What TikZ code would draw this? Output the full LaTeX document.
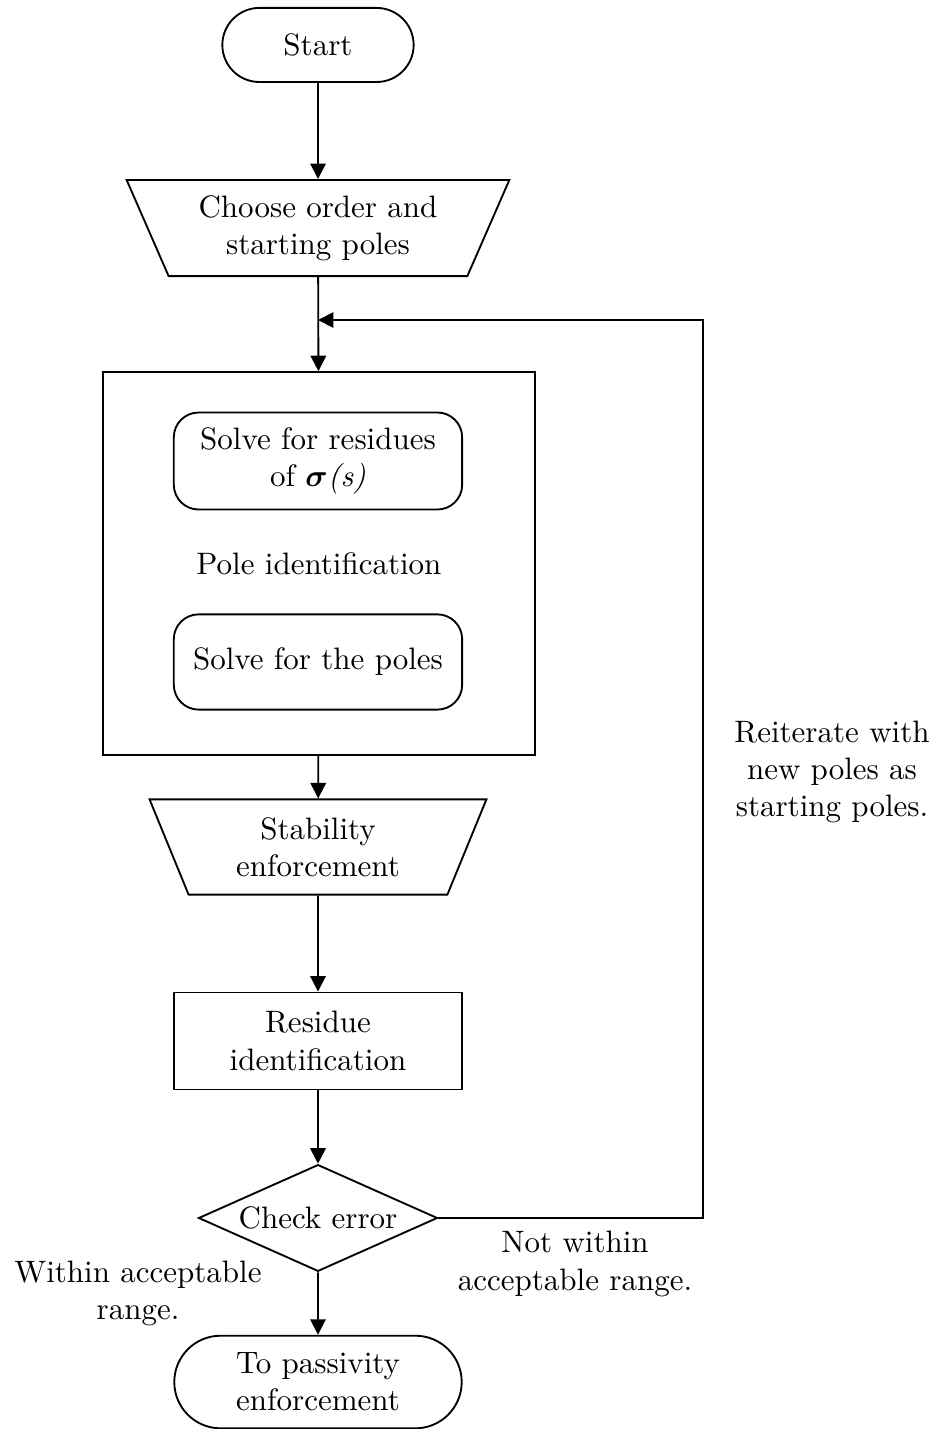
\documentclass[tikz,border=0pt]{standalone}
\usepackage{amsmath}
\usetikzlibrary{arrows.meta,positioning,shapes.geometric,shapes.misc}
\tikzstyle{fcterm}=[draw,rounded rectangle,semithick,minimum height=0.84cm,minimum width=2.31cm,align=center,inner sep=2pt]
\tikzstyle{fcio}=[draw,trapezium,shape border rotate=180,trapezium stretches body,semithick,
  trapezium left angle=64,trapezium right angle=64,align=center,minimum height=1.09cm]
\tikzstyle{fcproc}=[draw,rectangle,semithick,minimum width=3.27cm,minimum height=1.1cm,align=center]
\tikzstyle{fcround}=[fcproc,rounded corners=8pt]
\tikzstyle{fcdecide}=[draw,diamond,semithick,aspect=2.2,inner sep=1pt,minimum width=2.71cm,minimum height=1.21cm]
\tikzstyle{fcline}=[semithick,-{Triangle[length=5pt,width=5pt]}]
\tikzstyle{fcnote}=[align=center]

\begin{document}
\begin{tikzpicture}
    \useasboundingbox (0,0) rectangle (10.637,-16.205);
    \node[fcterm] (start) at (3.606,-0.51) {Start};
    \node[fcio,minimum width=4.34cm] (choose) at (3.606,-2.586) {Choose order and\\starting poles};
    \node[fcproc,minimum width=4.9cm,minimum height=4.34cm] (poleid) at (3.617,-6.39) {Pole identification};
    \node[fcround] (solveres) at (3.606,-5.228) {Solve for residues\\of $\boldsymbol{\sigma}$\textit{(s)}};
    \node[fcround,minimum height=1.08cm] (solvepol) at (3.606,-7.507) {Solve for the poles};
    \node[fcio,minimum width=3.82cm,minimum height=1.08cm] (stab) at (3.606,-9.605) {Stability\\enforcement};
    \node[fcproc] (residue) at (3.606,-11.805) {Residue\\identification};
    \node[fcdecide] (check) at (3.606,-13.812) {Check error};
    \node[fcterm,minimum width=3.4cm,minimum height=1.05cm] (passive) at (3.606,-15.672) {To passivity\\enforcement};
    \coordinate (join) at (3.606,-3.629);
    \coordinate (loopc) at (7.972,-3.629);
    % connectors
    \draw[fcline] (start) -- (choose);
    \draw[fcline] (choose) -- (poleid);
    \draw[fcline] (poleid) -- (stab);
    \draw[fcline] (stab) -- (residue);
    \draw[fcline] (residue) -- (check);
    \draw[fcline] (check) -- (passive);
    \draw[fcline] (check.east) -| (loopc) -- (join);
    % labels
    \node[fcnote] (reiter) at (9.435,-8.754) {Reiterate with\\new poles as\\starting poles.};
    \node[fcnote] (notin) at (6.521,-14.334) {Not within\\acceptable range.};
    \node[fcnote] (within) at (1.565,-14.663) {Within acceptable\\range.};
  \end{tikzpicture}
\end{document}
